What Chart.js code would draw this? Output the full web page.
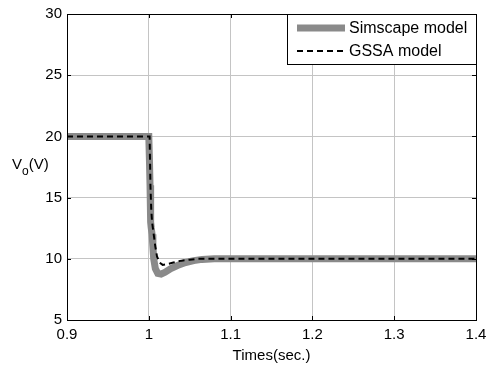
<!DOCTYPE html>
<html>
<head>
<meta charset="utf-8">
<script src="https://cdn.jsdelivr.net/npm/chart.js@4/dist/chart.umd.min.js"></script>
<style>
  body { margin: 0; background: #fff; }
  canvas { display: block; }
</style>
</head>
<body>
<canvas id="voltChart" width="487" height="367"></canvas>
<script>
// values
const simTime = [0.9, 1.0, 1.0008, 1.0015, 1.002, 1.0025, 1.003, 1.004, 1.005, 1.006, 1.008, 1.011, 1.015, 1.02, 1.027, 1.035, 1.045, 1.055, 1.065, 1.08, 1.4];
const simVolt = [20, 20, 18, 16, 14, 13, 12.5, 12, 11, 10, 9.2, 8.8, 8.75, 8.9, 9.2, 9.45, 9.7, 9.85, 9.95, 10, 10];

const gssaTime = [0.9, 1.001, 1.0015, 1.002, 1.003, 1.004, 1.006, 1.008, 1.010, 1.013, 1.017, 1.022, 1.03, 1.04, 1.05, 1.06, 1.4];
const gssaVolt = [20, 20, 18, 16, 14, 13, 12, 11, 10.2, 9.7, 9.5, 9.55, 9.7, 9.85, 9.93, 10, 10];

const xTicks = [0.9, 1, 1.1, 1.2, 1.3, 1.4];
const yTicks = [5, 10, 15, 20, 25, 30];

const seriesNames = ['Simscape model', 'GSSA model'];
const xTitle = 'Times(sec.)';

const FONT = 'Arial, "Liberation Sans", sans-serif';

function toPoints(xs, ys) {
  return xs.map((x, i) => ({ x: x, y: ys[i] }));
}

// box, inward tick marks, axis titles and legend, matlab style
const matlabFrame = {
  id: 'matlabFrame',
  afterDraw(chart) {
    const ctx = chart.ctx;
    const a = chart.chartArea;
    const xs = chart.scales.x, ys = chart.scales.y;
    ctx.save();
    ctx.strokeStyle = '#000';
    ctx.lineWidth = 1;
    ctx.strokeRect(Math.round(a.left) + 0.5, Math.round(a.top) + 0.5,
      Math.round(a.right - a.left), Math.round(a.bottom - a.top));

    ctx.beginPath();
    xTicks.forEach(t => {
      const px = Math.round(xs.getPixelForValue(t)) + 0.5;
      ctx.moveTo(px, a.bottom); ctx.lineTo(px, a.bottom - 4);
      ctx.moveTo(px, a.top); ctx.lineTo(px, a.top + 4);
    });
    yTicks.forEach(t => {
      const py = Math.round(ys.getPixelForValue(t)) + 0.5;
      ctx.moveTo(a.left, py); ctx.lineTo(a.left + 4, py);
      ctx.moveTo(a.right, py); ctx.lineTo(a.right - 4, py);
    });
    ctx.stroke();

    // axis titles
    ctx.fillStyle = '#000';
    ctx.font = '15px ' + FONT;
    ctx.textAlign = 'center';
    ctx.textBaseline = 'alphabetic';
    ctx.fillText(xTitle, (a.left + a.right) / 2, 360);

    ctx.textAlign = 'left';
    ctx.fillText('V', 12, 169);
    let w = ctx.measureText('V').width;
    ctx.font = '12px ' + FONT;
    ctx.fillText('o', 12 + w, 175);
    w += ctx.measureText('o').width;
    ctx.font = '15px ' + FONT;
    ctx.fillText('(V)', 12 + w, 169);

    // legend
    const lx = 287, ly = 14, lw = a.right - 287, lh = 50;
    ctx.fillStyle = '#fff';
    ctx.fillRect(lx, ly, lw, lh);
    ctx.strokeRect(lx + 0.5, ly + 0.5, lw, lh);
    const rows = [28, 51];
    chart.data.datasets.forEach((ds, i) => {
      ctx.beginPath();
      ctx.strokeStyle = ds.borderColor;
      ctx.lineWidth = ds.borderWidth;
      ctx.setLineDash(ds.borderDash || []);
      ctx.moveTo(297, rows[i]);
      ctx.lineTo(345, rows[i]);
      ctx.stroke();
      ctx.setLineDash([]);
      ctx.fillStyle = '#000';
      ctx.font = '16px ' + FONT;
      ctx.textBaseline = 'middle';
      ctx.fillText(ds.label, 349, rows[i] + 1);
    });
    ctx.restore();
  }
};

const config = {
  type: 'line',
  data: {
    datasets: [{
      label: seriesNames[0],
      data: toPoints(simTime, simVolt),
      borderColor: '#8a8a8a',
      borderWidth: 7,
      pointRadius: 0,
      tension: 0,
      order: 2
    }, {
      label: seriesNames[1],
      data: toPoints(gssaTime, gssaVolt),
      borderColor: '#000',
      borderWidth: 2,
      borderDash: [6, 4],
      pointRadius: 0,
      tension: 0,
      order: 1
    }]
  },
  options: {
    responsive: false,
    animation: false,
    devicePixelRatio: 1,
    layout: { padding: { top: 14, right: 11, left: 0, bottom: 0 } },
    plugins: { legend: { display: false }, tooltip: { enabled: false } },
    scales: {
      x: {
        type: 'linear',
        min: 0.9,
        max: 1.4,
        afterBuildTicks: s => { s.ticks = xTicks.map(v => ({ value: v })); },
        afterFit: s => { s.height = 47; s.paddingLeft = 0; s.paddingRight = 0; },
        grid: { color: '#c4c4c4', drawTicks: false },
        border: { display: false },
        ticks: {
          color: '#000',
          font: { family: FONT, size: 15 },
          padding: 6,
          maxRotation: 0,
          callback: v => String(v)
        }
      },
      y: {
        min: 5,
        max: 30,
        afterBuildTicks: s => { s.ticks = yTicks.map(v => ({ value: v })); },
        afterFit: s => { s.width = 67; s.paddingTop = 0; s.paddingBottom = 0; },
        grid: { color: '#c4c4c4', drawTicks: false },
        border: { display: false },
        ticks: {
          color: '#000',
          font: { family: FONT, size: 15 },
          padding: 5,
          callback: v => String(v)
        }
      }
    }
  },
  plugins: [matlabFrame]
};

new Chart(document.getElementById('voltChart').getContext('2d'), config);
</script>
</body>
</html>
